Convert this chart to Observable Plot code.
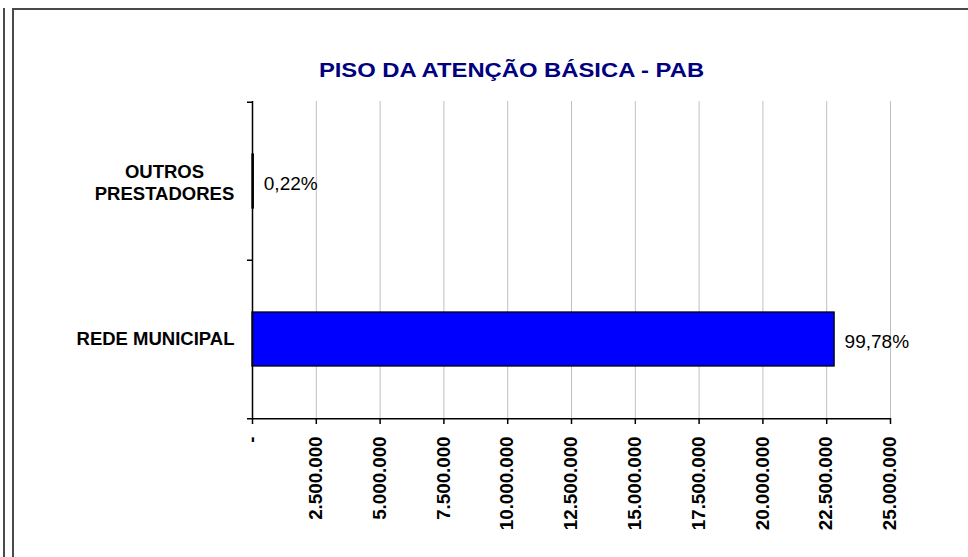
<!DOCTYPE html>
<html><head><meta charset="utf-8">
<script src="https://cdn.jsdelivr.net/npm/d3@7"></script>
<script src="https://cdn.jsdelivr.net/npm/@observablehq/plot@0.6"></script>
<style>
body{margin:0;background:#fff;}
#wrap{position:relative;width:968px;height:557px;overflow:hidden;font-family:"Liberation Sans",Arial,sans-serif;background:#fff;}
#wrap svg{position:absolute;left:0;top:0;}
.line{position:absolute;background:#4a4a4a;}
#title{position:absolute;left:0;width:1023px;top:60px;text-align:center;font-size:20px;line-height:20px;font-weight:bold;color:#000080;transform:scaleX(1.19);transform-origin:511.5px 0;white-space:nowrap;}
</style></head><body>
<div id="wrap">
<div class="line" style="left:3px;top:8px;width:2px;height:560px"></div>
<div class="line" style="left:12px;top:8px;width:2px;height:560px"></div>
<div class="line" style="left:12px;top:8px;width:960px;height:2px"></div>
<div id="title">PISO DA ATENÇÃO BÁSICA - PAB</div>
</div>
<script>
const categories = ["OUTROS\nPRESTADORES", "REDE MUNICIPAL"];
const values = [50300, 22810000];
const pctLabels = ["0,22%", "99,78%"];
const xTicks = [0, 2500000, 5000000, 7500000, 10000000, 12500000, 15000000, 17500000, 20000000, 22500000, 25000000];
const xTickLabels = ["-", "2.500.000", "5.000.000", "7.500.000", "10.000.000", "12.500.000", "15.000.000", "17.500.000", "20.000.000", "22.500.000", "25.000.000"];

const W = 968, H = 557, mt = 101, mb = 139, ml = 252, mr = 78;
const step = (H - mt - mb) / categories.length;
const data = categories.map((c, i) => ({cat: c, value: values[i], pct: pctLabels[i]}));
const xMax = xTicks[xTicks.length - 1];

const chart = Plot.plot({
  width: W, height: H,
  marginTop: mt, marginBottom: mb, marginLeft: ml, marginRight: mr,
  style: {background: "none", fontFamily: "'Liberation Sans', Arial, sans-serif", overflow: "visible"},
  x: {domain: [0, xMax], label: null},
  y: {domain: categories, paddingInner: 0.66, paddingOuter: 0.33, axis: null, label: null},
  marks: [
    Plot.gridX(xTicks, {stroke: "#c0c0c0", strokeOpacity: 1, strokeWidth: 1}),
    Plot.barX(data, {x: "value", y: "cat", fill: "#0000ff", stroke: "#000", strokeWidth: 1.3}),
    Plot.ruleX([0], {stroke: "#000", strokeWidth: 1.5}),
    Plot.ruleY(categories, {y: d => d, x1: 0, x2: 0, insetLeft: -5, dy: -step / 2, stroke: "#000", strokeWidth: 1.5}),
    Plot.ruleY(categories.slice(-1), {y: d => d, x1: 0, x2: xMax, insetLeft: -5, dy: step / 2, stroke: "#000", strokeWidth: 1.5}),
    Plot.axisX(xTicks, {
      tickSize: 6, tickPadding: 12, tickRotate: -90,
      tickFormat: d => xTickLabels[xTicks.indexOf(d)],
      fontSize: 17.5, fontWeight: "bold", fill: "#000", stroke: "#000", strokeWidth: 1.5
    }),
    Plot.text(data.filter(d => d.cat.includes("\n")), {
      y: "cat", x: 0, text: "cat", textAnchor: "middle", dx: -88,
      fontSize: 18.5, fontWeight: "bold", lineHeight: 1.2, fill: "#000"
    }),
    Plot.text(data.filter(d => !d.cat.includes("\n")), {
      y: "cat", x: 0, text: "cat", textAnchor: "end", dx: -18,
      fontSize: 18.5, fontWeight: "bold", fill: "#000"
    }),
    Plot.text(data, {x: "value", y: "cat", text: "pct", textAnchor: "start", dx: 10, dy: 2, fontSize: 19, fill: "#000"})
  ]
});
const wrap = document.getElementById("wrap");
wrap.prepend(chart);
chart.querySelectorAll('g[aria-label="x-axis tick label"] text').forEach(t => {
  const L = t.getComputedTextLength();
  t.setAttribute("textLength", (L * 1.07).toFixed(1));
  t.setAttribute("lengthAdjust", "spacingAndGlyphs");
});
</script>
</body></html>
